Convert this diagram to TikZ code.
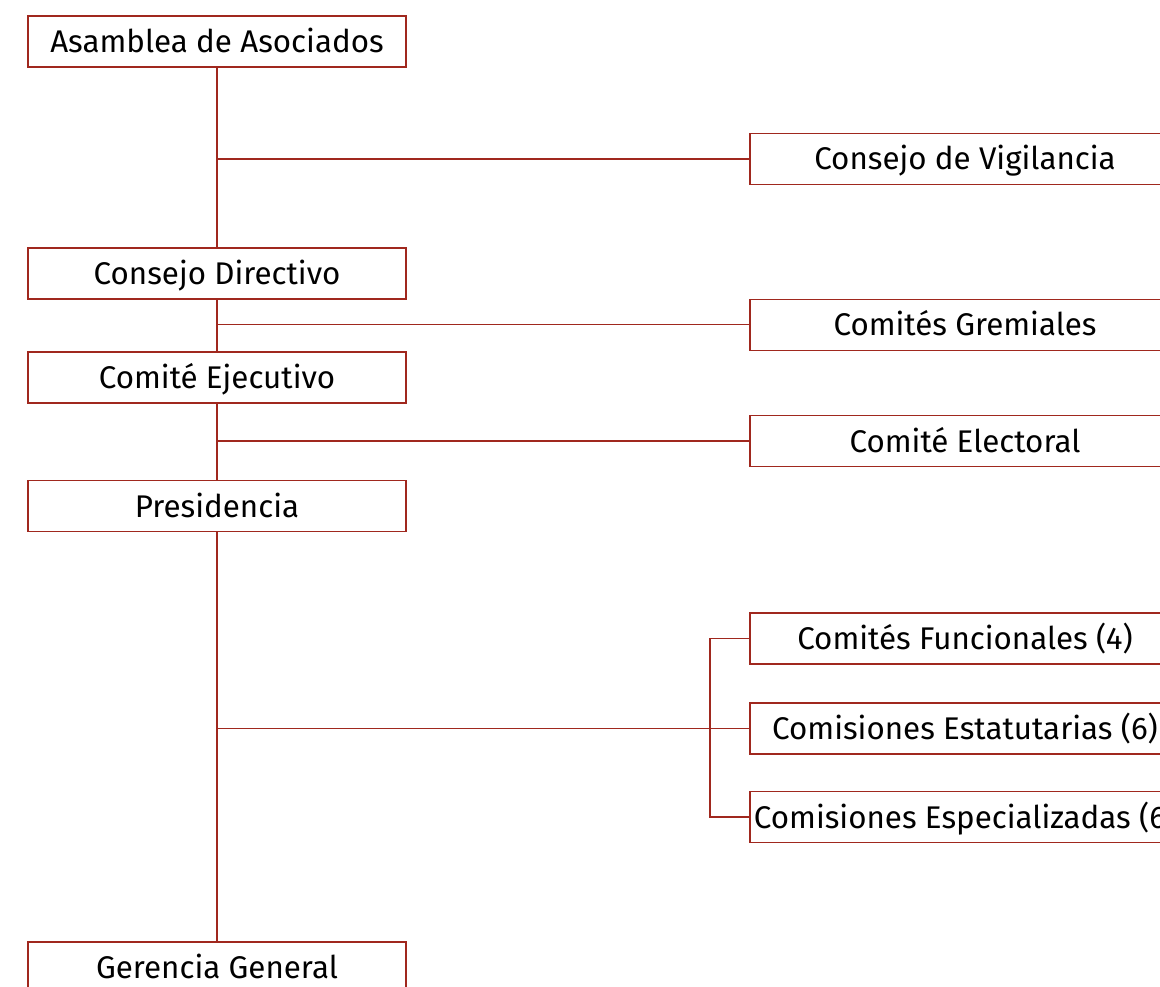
\documentclass[tikz,border=0pt]{standalone}
\usepackage{fontspec}
\setmainfont{Fira Sans}
\definecolor{linered}{RGB}{160,40,30}
\tikzset{
  org/.style={draw=linered, line width=1pt, fill=white, inner sep=0pt,
    minimum height=38.25pt, text height=16.5pt, text depth=0pt,
    font=\fontsize{23.5}{27}\selectfont, text=black},
  leftbox/.style={org, minimum width=283.5pt},
  rightbox/.style={org, minimum width=322.5pt},
  conn/.style={draw=linered, line width=1pt}
}
\begin{document}
\begin{tikzpicture}[x=0.75pt, y=-0.75pt]
\useasboundingbox (0,0) rectangle (1160,987);
\clip (0,0) rectangle (1160,987);
\node[leftbox] (a) at (217,41.5) {Asamblea de Asociados};
\node[rightbox] (cv) at (965,159) {Consejo de Vigilancia};
\node[leftbox] (cd) at (217,273.5) {Consejo Directivo};
\node[rightbox] (cg) at (965,324.7) {Comités Gremiales};
\node[leftbox] (ce) at (217,377.5) {Comité Ejecutivo};
\node[rightbox] (cel) at (965,441) {Comité Electoral};
\node[leftbox] (p) at (217,506.2) {Presidencia};
\node[rightbox] (cf) at (965,638.5) {Comités Funcionales (4)};
\node[rightbox] (cest) at (965,728.5) {Comisiones Estatutarias (6)};
\node[rightbox] (cesp) at (965,817) {Comisiones Especializadas (6)};
\node[leftbox] (g) at (217,967.5) {Gerencia General};
\coordinate (j) at (710,728.5);
\draw[conn] (a.south) -- (cd.north);
\draw[conn] (cv.west) -- (cv.west -| a.south);
\draw[conn] (cd.south) -- (ce.north);
\draw[conn] (cg.west) -- (cg.west -| cd.south);
\draw[conn] (ce.south) -- (p.north);
\draw[conn] (cel.west) -- (cel.west -| ce.south);
\draw[conn] (p.south) -- (g.north);
\draw[conn] (cest.west) -- (cest.west -| p.south);
\draw[conn] (cf.west) -- (cf.west -| j) -- (cesp.west -| j) -- (cesp.west);
\end{tikzpicture}
\end{document}
